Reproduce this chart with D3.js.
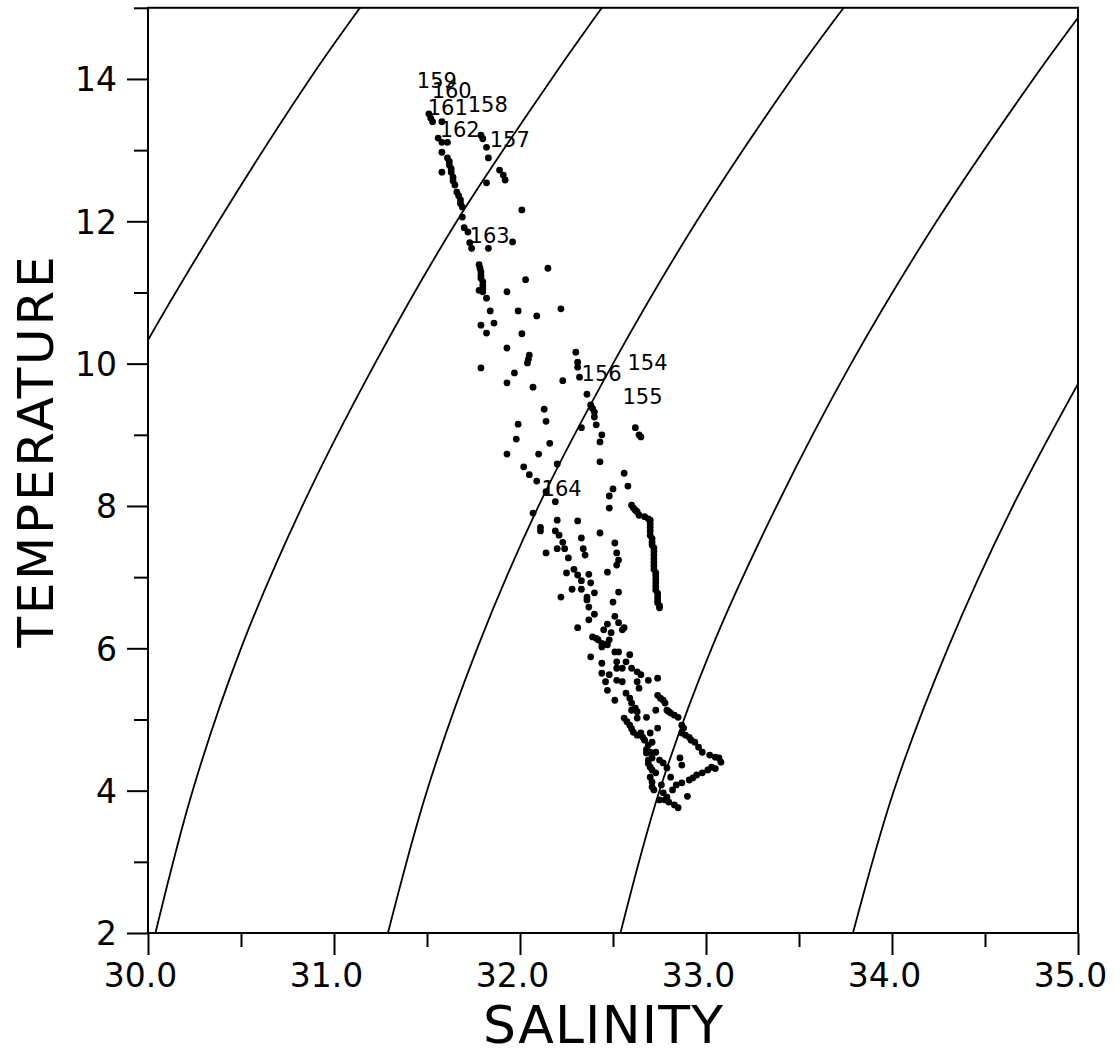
<!DOCTYPE html>
<html>
<head>
<meta charset="utf-8">
<script src="https://cdn.jsdelivr.net/npm/d3@7"></script>
<style>
  html, body { margin: 0; padding: 0; background: #fff; }
  svg { display: block; }
  text { font-family: "DejaVu Sans", sans-serif; fill: #000; }
</style>
</head>
<body>
<svg id="chart" width="1120" height="1056"></svg>
<script>
// ---------- data ----------
const xTicksMajor = [30, 31, 32, 33, 34, 35];
const xTicksMinor = [30.5, 31.5, 32.5, 33.5, 34.5];
const yTicksMajor = [2, 4, 6, 8, 10, 12, 14];
const yTicksMinor = [3, 5, 7, 9, 11, 13, 15];

// isopycnal (sigma-t) lines: salinity at given temperatures
const isoT   = [2, 4, 6, 8, 10, 12, 14, 15];
const iso23  = [28.79, 28.98, 29.23, 29.55, 29.93, 30.38, 30.87, 31.14];
const iso24  = [30.04, 30.24, 30.50, 30.83, 31.22, 31.66, 32.17, 32.44];
const iso25  = [31.29, 31.50, 31.77, 32.10, 32.50, 32.95, 33.46, 33.74];
const iso26  = [32.54, 32.75, 33.03, 33.38, 33.78, 34.24, 34.76, 35.04];
const iso27  = [33.79, 34.01, 34.30, 34.65, 35.06];

// station labels
const stationIds = ["159", "160", "161", "158", "162", "157", "163", "156", "154", "155", "164"];
const stationS   = [31.445, 31.525, 31.504, 31.719, 31.568, 31.837, 31.729, 32.331, 32.578, 32.551, 32.116];
const stationT   = [13.873, 13.733, 13.494, 13.536, 13.185, 13.044, 11.695, 9.756, 9.911, 9.433, 8.140];

// observed [salinity, temperature] points
const tsObs = [
  [31.51,13.51],[31.52,13.45],[31.53,13.40],[31.58,13.40],[31.56,13.17],[31.58,13.11],[31.61,13.11],
  [31.58,12.97],[31.61,12.89],[31.62,12.79],[31.63,12.69],[31.58,12.69],[31.64,12.62],[31.65,12.51],
  [31.66,12.41],[31.68,12.30],[31.69,12.20],[31.69,12.06],[31.70,11.91],[31.72,11.85],[31.73,11.70],
  [31.74,11.62],[31.62,12.84],[31.63,12.74],[31.64,12.57],[31.67,12.36],[31.68,12.25],
  [31.79,13.21],[31.80,13.16],[31.82,13.04],[31.83,12.89],[31.82,12.54],[31.89,12.72],[31.91,12.65],
  [31.92,12.58],[32.01,12.16],[31.96,11.71],[31.83,11.62],
  [31.78,11.39],[31.785,11.34],[31.79,11.29],[31.79,11.24],[31.79,11.20],[31.80,11.15],[31.80,11.10],
  [31.80,11.05],[31.80,11.01],[31.82,10.92],[31.78,11.03],
  [31.93,11.01],[32.03,11.18],[32.15,11.34],[32.22,10.77],[31.84,10.74],[31.99,10.74],[32.09,10.67],
  [31.79,10.54],[31.86,10.57],[31.82,10.43],[32.01,10.42],[31.93,10.22],[32.05,10.12],[32.045,10.06],
  [32.04,10.01],[31.79,9.94],[31.97,9.87],[31.93,9.73],[32.07,9.67],[32.23,9.76],[32.30,10.16],
  [32.31,10.02],[32.31,9.95],[32.32,9.81],[32.36,9.57],[32.38,9.42],[32.39,9.37],[32.40,9.32],
  [32.40,9.25],[32.13,9.36],[32.14,9.19],[31.99,9.15],[31.98,8.94],[32.16,8.88],[32.33,9.10],
  [32.41,9.14],[32.44,9.00],[32.43,8.90],[31.93,8.73],[32.10,8.73],[32.20,8.59],[32.43,8.62],
  [32.02,8.55],[32.05,8.44],[32.09,8.35],[32.56,8.46],[32.58,8.28],[32.50,8.24],[32.48,8.14],
  [32.62,9.10],[32.64,9.00],[32.65,8.97],[32.48,7.97],
  [32.60,8.01],[32.61,7.97],[32.62,7.94],[32.63,7.92],[32.64,7.87],[32.67,7.85],[32.69,7.82],[32.70,7.80],
  [32.70,7.75],[32.70,7.70],[32.70,7.65],[32.70,7.59],[32.71,7.54],[32.71,7.49],[32.71,7.45],[32.72,7.41],
  [32.72,7.36],[32.72,7.31],[32.72,7.26],[32.72,7.21],[32.72,7.16],[32.72,7.11],[32.73,7.06],[32.73,7.02],
  [32.73,6.97],[32.73,6.92],[32.73,6.87],[32.73,6.82],[32.74,6.77],[32.74,6.72],[32.74,6.68],[32.74,6.64],
  [32.75,6.60],[32.75,6.57],
  [32.14,8.20],[32.19,8.06],[32.07,7.90],[32.20,7.80],[32.31,7.79],[32.11,7.70],[32.11,7.65],[32.19,7.65],
  [32.21,7.59],[32.23,7.49],[32.33,7.55],[32.43,7.62],[32.14,7.34],[32.20,7.40],[32.24,7.40],[32.26,7.27],
  [32.34,7.40],[32.35,7.31],[32.47,7.07],[32.25,7.06],[32.29,7.11],[32.31,7.03],[32.33,6.95],[32.37,7.04],
  [32.38,6.92],[32.28,6.83],[32.33,6.83],[32.40,6.78],[32.36,6.72],[32.37,6.58],[32.22,6.72],[32.40,6.48],
  [32.37,6.40],[32.31,6.29],[32.38,5.88],[32.44,5.79],[32.44,5.65],[32.46,5.53],[32.47,5.41],
  [32.51,7.48],[32.52,7.34],[32.53,7.24],[32.52,7.17],[32.50,6.65],[32.53,6.79],[32.51,6.45],[32.47,6.34],
  [32.53,6.36],[32.56,6.29],[32.36,6.68],[32.55,6.26],
  [32.39,6.16],[32.42,6.12],[32.44,6.07],[32.47,6.05],[32.48,6.12],[32.49,6.22],[32.45,6.26],[32.44,6.02],
  [32.41,6.14],[32.46,6.06],
  [32.51,5.95],[32.53,5.95],[32.59,5.91],[32.52,5.81],[32.52,5.72],[32.55,5.72],[32.57,5.81],[32.60,5.72],
  [32.63,5.67],[32.65,5.63],[32.48,5.63],[32.52,5.55],[32.55,5.53],[32.63,5.53],[32.64,5.44],[32.69,5.55],
  [32.74,5.58],
  [32.51,5.27],[32.57,5.37],[32.59,5.30],[32.60,5.23],[32.62,5.16],[32.63,5.11],[32.60,5.13],[32.63,5.02],
  [32.74,5.34],[32.77,5.27],[32.78,5.23],[32.79,5.13],[32.81,5.09],[32.83,5.06],[32.68,5.03],[32.73,5.13],
  [32.74,4.88],[32.755,5.30],[32.80,5.11],
  [32.56,5.02],[32.59,4.92],[32.61,4.82],[32.63,4.78],[32.65,4.81],[32.67,4.71],[32.69,4.64],[32.70,4.54],
  [32.71,4.46],[32.66,4.75],[32.68,4.53],[32.69,4.43],[32.70,4.33],[32.70,4.81],[32.71,4.68],[32.73,4.54],
  [32.75,4.43],[32.575,4.97],[32.60,4.87],[32.68,4.58],[32.69,4.38],
  [32.85,5.03],[32.87,4.92],[32.88,4.88],[32.87,4.81],[32.91,4.75],[32.94,4.68],[32.96,4.61],[32.98,4.54],
  [33.02,4.50],[33.05,4.47],[33.07,4.46],[33.08,4.40],[33.03,4.33],[33.01,4.29],[32.98,4.25],[32.95,4.22],
  [32.91,4.15],[32.87,4.11],[32.84,4.08],[32.82,4.01],[32.79,3.91],[32.78,3.87],[32.80,3.84],[32.83,3.80],
  [32.85,3.76],[32.89,4.78],[32.92,4.71],[32.93,4.18],[33.05,4.31],
  [32.86,4.46],[32.87,4.36],[32.90,3.92],
  [32.71,4.29],[32.73,4.25],[32.77,4.39],[32.79,4.32],[32.81,4.19],[32.71,4.12],[32.72,4.01],[32.76,4.08],
  [32.77,3.97],[32.75,3.87],[32.71,4.05],[32.70,4.19]
];

// ---------- layout ----------
const svg = d3.select("#chart");
const x = d3.scaleLinear().domain([30, 35]).range([148, 1078]);
const y = d3.scaleLinear().domain([2, 15]).range([933, 933 - 13 * 71.17]);

svg.append("defs").append("clipPath").attr("id", "plotClip")
  .append("rect")
  .attr("x", x(30)).attr("y", y(15))
  .attr("width", x(35) - x(30)).attr("height", y(2) - y(15));

// isopycnals
const isoSets = [iso23, iso24, iso25, iso26, iso27];
const line = d3.line()
  .x(d => x(d[0])).y(d => y(d[1]))
  .curve(d3.curveCatmullRom);
const gIso = svg.append("g").attr("clip-path", "url(#plotClip)");
isoSets.forEach(sArr => {
  const pts = sArr.map((s, i) => [s, isoT[i]]);
  gIso.append("path")
    .attr("d", line(pts))
    .attr("fill", "none")
    .attr("stroke", "#000")
    .attr("stroke-width", 1.8);
});

// data points
svg.append("g").attr("clip-path", "url(#plotClip)")
  .selectAll("circle").data(tsObs).join("circle")
  .attr("cx", d => x(d[0]))
  .attr("cy", d => y(d[1]))
  .attr("r", 3.4)
  .attr("fill", "#000");

// station labels
svg.append("g").selectAll("text").data(stationIds).join("text")
  .attr("x", (d, i) => x(stationS[i]))
  .attr("y", (d, i) => y(stationT[i]))
  .attr("font-size", 21)
  .text(d => d);

// axes
const axisStyle = g => {
  g.select(".domain").remove();
  g.selectAll(".tick line").attr("stroke", "#000").attr("stroke-width", 2);
};

const gx = svg.append("g").attr("transform", `translate(0,${y(2)})`);
gx.append("g").call(d3.axisBottom(x).tickValues(xTicksMinor).tickSize(14).tickFormat(""))
  .call(axisStyle);
gx.append("g").call(d3.axisBottom(x).tickValues(xTicksMajor).tickSize(22).tickFormat(d3.format(".1f")))
  .call(axisStyle)
  .call(g => g.selectAll(".tick text")
    .attr("x", -8)
    .attr("y", 54).attr("dy", 0)
    .attr("font-size", 33)
    .attr("font-family", "DejaVu Sans, sans-serif")
    .attr("fill", "#000"));

const gy = svg.append("g").attr("transform", `translate(${x(30)},0)`);
gy.append("g").call(d3.axisLeft(y).tickValues(yTicksMinor).tickSize(14).tickFormat(""))
  .call(axisStyle);
gy.append("g").call(d3.axisLeft(y).tickValues(yTicksMajor).tickSize(21).tickFormat(d3.format("d")))
  .call(axisStyle)
  .call(g => g.selectAll(".tick text")
    .attr("x", -31).attr("dy", "0.36em")
    .attr("font-size", 33)
    .attr("font-family", "DejaVu Sans, sans-serif")
    .attr("fill", "#000"));

// frame
svg.append("rect")
  .attr("x", x(30)).attr("y", y(15))
  .attr("width", x(35) - x(30)).attr("height", y(2) - y(15))
  .attr("fill", "none").attr("stroke", "#000").attr("stroke-width", 2);

// axis titles
svg.append("text")
  .attr("x", 603).attr("y", 1043)
  .attr("text-anchor", "middle")
  .attr("font-size", 52)
  .attr("textLength", 240).attr("lengthAdjust", "spacing")
  .text("SALINITY");

svg.append("text")
  .attr("transform", "translate(53,452) rotate(-90)")
  .attr("text-anchor", "middle")
  .attr("font-size", 50)
  .attr("textLength", 391).attr("lengthAdjust", "spacing")
  .text("TEMPERATURE");
</script>
</body>
</html>
